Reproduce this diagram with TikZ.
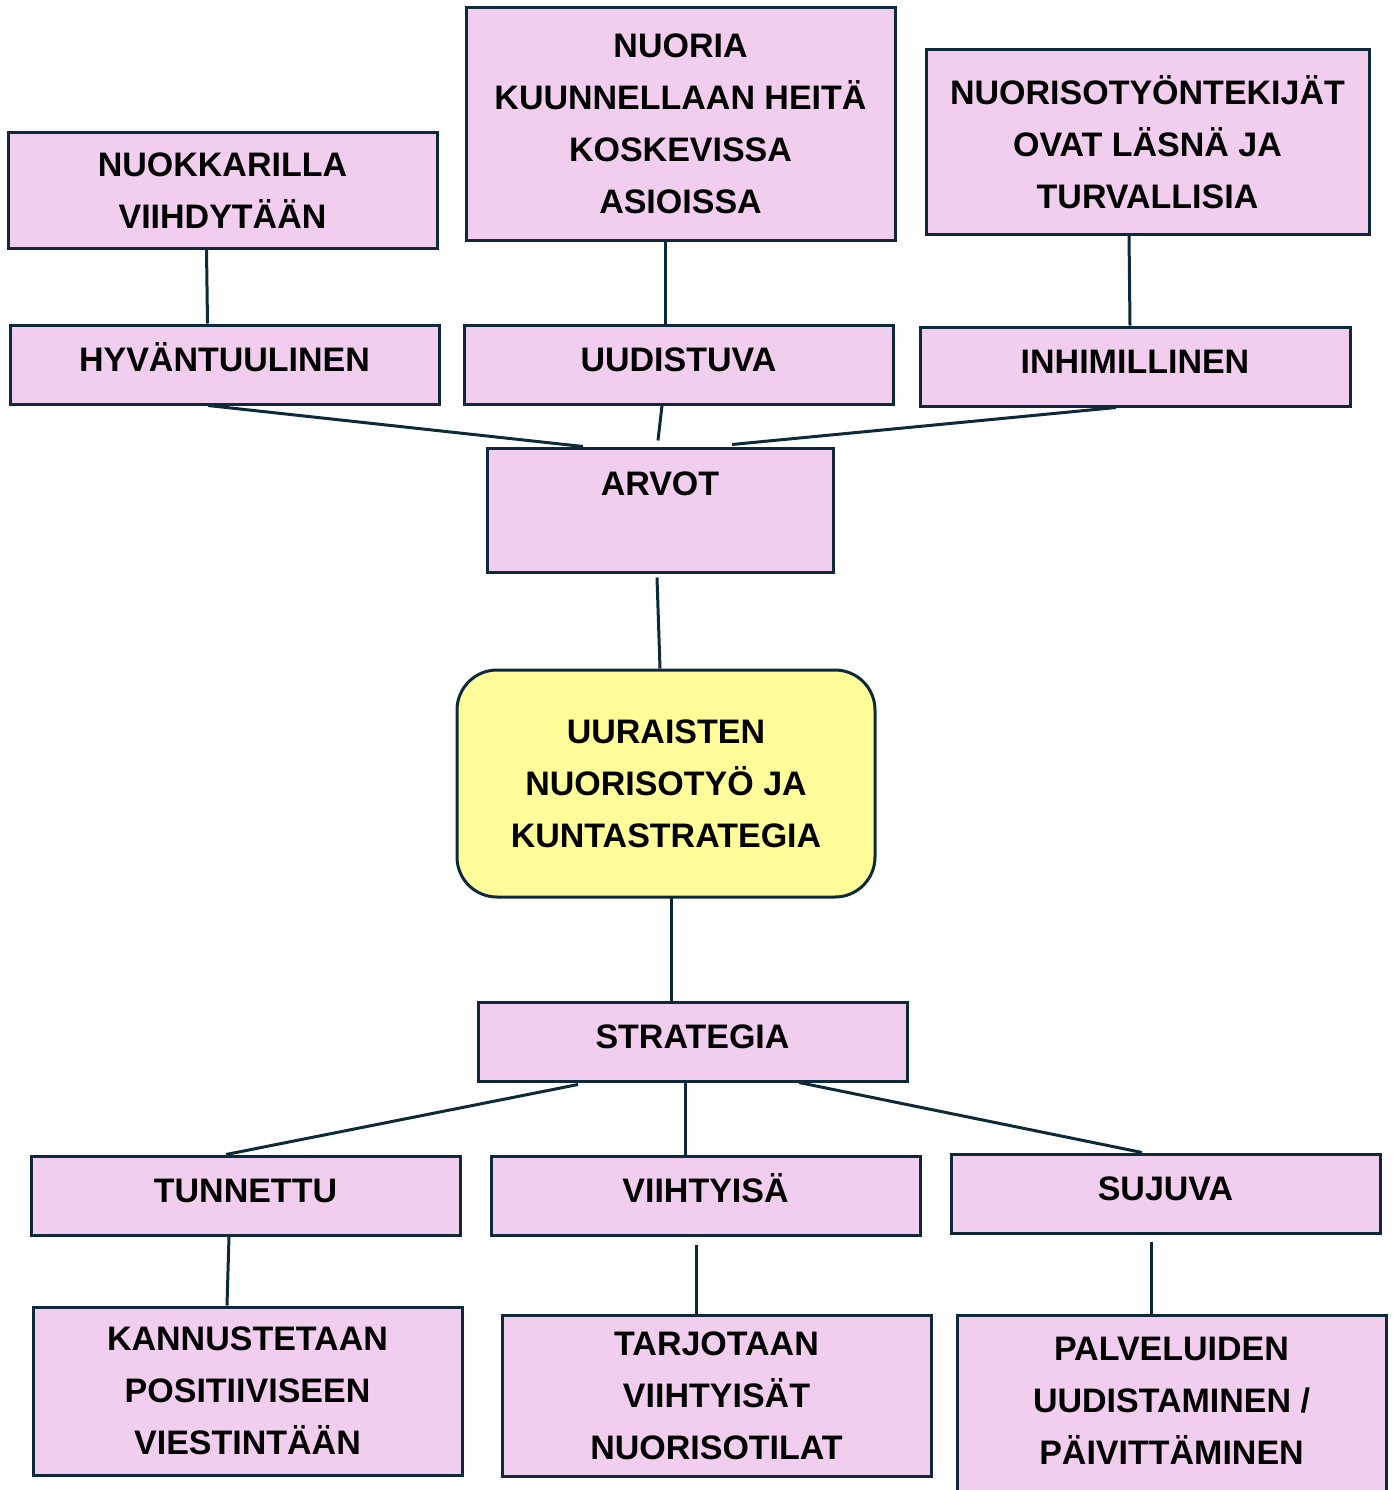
\documentclass[tikz,border=0pt]{standalone}
\usepackage{fontspec}
\setmainfont{Liberation Sans}
\usetikzlibrary{calc}
\definecolor{pinkfill}{RGB}{242,206,238}
\definecolor{yellowfill}{RGB}{255,253,153}
\definecolor{borderblue}{RGB}{14,42,58}
\begin{document}
\begin{tikzpicture}[x=1pt, y=-1pt,
        box/.style={draw=borderblue, fill=pinkfill, line width=3pt, inner sep=0pt, minimum width=429pt, minimum height=79pt, align=center, font=\bfseries\fontsize{34}{52}\selectfont},
        oneline/.style={box, text height=24pt, text depth=10pt}, % teksti hieman ylempana
        core/.style={box, fill=yellowfill, rounded corners=40pt},
        link/.style={draw=borderblue, line width=3pt}]
    \useasboundingbox (0,0) rectangle (1392,1490);
    \clip (0,0) rectangle (1392,1490);
    % ylarivi
    \node[box, minimum height=115pt] (viihdy) at (222.5,190.5) {NUOKKARILLA\\VIIHDYTÄÄN};
    \node[box, minimum height=232pt] (kuunnel) at (680.5,124) {NUORIA\\KUUNNELLAAN HEITÄ\\KOSKEVISSA\\ASIOISSA};
    \node[box, minimum width=443pt, minimum height=184pt] (lasna) at (1147.5,142) {NUORISOTYÖNTEKIJÄT\\OVAT LÄSNÄ JA\\TURVALLISIA};
    % arvot
    \node[oneline] (hyva) at (224.5,364.5) {HYVÄNTUULINEN};
    \node[oneline] (uudis) at (678.5,364.5) {UUDISTUVA};
    \node[oneline, minimum width=430pt] (inhim) at (1135,366.5) {INHIMILLINEN};
    \node[box, minimum width=346pt, minimum height=124pt] (arvot) at (660,510) {ARVOT\\~}; % teksti ylhaalla
    % keskus
    \node[core, minimum width=418pt, minimum height=227pt] (keskus) at (666,783.5) {UURAISTEN\\NUORISOTYÖ JA\\KUNTASTRATEGIA};
    % strategia
    \node[oneline] (strat) at (692.5,1041.5) {STRATEGIA};
    \node[oneline] (tunn) at (245.5,1195.5) {TUNNETTU};
    \node[oneline] (viiht) at (705.5,1195.5) {VIIHTYISÄ};
    \node[oneline] (sujuva) at (1165.5,1193.5) {SUJUVA};
    \node[box, minimum height=168pt] (kannus) at (247.5,1391) {KANNUSTETAAN\\POSITIIVISEEN\\VIESTINTÄÄN};
    \node[box, minimum height=161pt] (tarjo) at (716.5,1395.5) {TARJOTAAN\\VIIHTYISÄT\\NUORISOTILAT};
    \node[box, minimum height=224pt] (palvel) at (1171.5,1427) {PALVELUIDEN\\UUDISTAMINEN /\\PÄIVITTÄMINEN\\~}; % jatkuu reunan yli
    % viivat
    \draw[link] ([xshift=-16pt]viihdy.south) -- ([xshift=-17pt]hyva.north);
    \draw[link] ([xshift=-15.5pt]kuunnel.south) -- ([xshift=-13.5pt]uudis.north);
    \draw[link] ([xshift=-18.5pt]lasna.south) -- ([xshift=-5pt]inhim.north);
    \draw[link] ([xshift=-16.5pt]hyva.south) -- ([xshift=-77pt]arvot.north);
    \draw[link] ([xshift=-16.5pt]uudis.south) -- ([xshift=-2pt, yshift=6pt]arvot.north);
    \draw[link] ([xshift=-19pt]inhim.south) -- ([xshift=72pt, yshift=2pt]arvot.north);
    \draw[link] ([xshift=-3pt, yshift=-4pt]arvot.south) -- ([xshift=-6pt]keskus.north);
    \draw[link] ([xshift=5pt, yshift=2pt]keskus.south) -- ([xshift=-21.5pt]strat.north);
    \draw[link] ([xshift=-114.5pt, yshift=-2pt]strat.south) -- ([xshift=-19.5pt]tunn.north);
    \draw[link] ([xshift=-7.5pt, yshift=3pt]strat.south) -- ([xshift=-20.5pt]viiht.north);
    \draw[link] ([xshift=106.5pt]strat.south) -- ([xshift=-23.5pt]sujuva.north);
    \draw[link] ([xshift=-16.5pt]tunn.south) -- ([xshift=-20.5pt]kannus.north);
    \draw[link] ([xshift=-9.5pt, yshift=-8pt]viiht.south) -- ([xshift=-20.5pt]tarjo.north);
    \draw[link] ([xshift=-14.5pt, yshift=-7pt]sujuva.south) -- ([xshift=-20.5pt]palvel.north);
\end{tikzpicture}
\end{document}
